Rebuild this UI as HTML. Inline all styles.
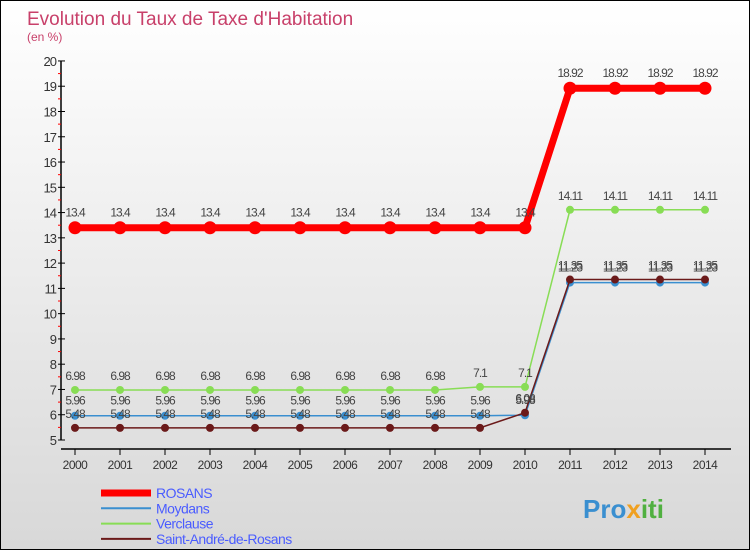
<!DOCTYPE html>
<html><head><meta charset="utf-8"><style>
body{margin:0;width:750px;height:550px;overflow:hidden;font-family:"Liberation Sans",sans-serif}
#wrap{position:relative;width:748px;height:548px;border:1px solid #000;background:linear-gradient(#fff,#d8d8d8)}
</style></head><body>
<div id="wrap">
<svg id="chart" width="748" height="548">
<text x="26" y="24" font-size="19" fill="#c8406a">Evolution du Taux de Taxe d'Habitation</text>
<text x="26" y="40" font-size="12" fill="#c8406a">(en %)</text>
<g id="axes"></g><g id="series"></g><g id="legend"></g>
<text x="582" y="517" font-size="26" font-weight="bold" fill="#3a8fd0">Pro<tspan fill="#f0a020">x</tspan><tspan fill="#50b040">iti</tspan></text>
</svg></div>
<script>
const years=[2000,2001,2002,2003,2004,2005,2006,2007,2008,2009,2010,2011,2012,2013,2014];
const rosans=[13.4,13.4,13.4,13.4,13.4,13.4,13.4,13.4,13.4,13.4,13.4,18.92,18.92,18.92,18.92];
const moydans=[5.96,5.96,5.96,5.96,5.96,5.96,5.96,5.96,5.96,5.96,5.98,11.23,11.23,11.23,11.23];
const verclause=[6.98,6.98,6.98,6.98,6.98,6.98,6.98,6.98,6.98,7.1,7.1,14.11,14.11,14.11,14.11];
const standre=[5.48,5.48,5.48,5.48,5.48,5.48,5.48,5.48,5.48,5.48,6.08,11.35,11.35,11.35,11.35];
const yTicks=[5,6,7,8,9,10,11,12,13,14,15,16,17,18,19,20];
const names=["ROSANS","Moydans","Verclause","Saint-André-de-Rosans"];
const NS="http://www.w3.org/2000/svg";
const X=i=>74+i*45, Y=v=>439-(v-5)*25.27;
function mk(t,a,p){const e=document.createElementNS(NS,t);for(const k in a)e.setAttribute(k,a[k]);p.appendChild(e);return e;}
const ax=document.getElementById('axes');
const yl=mk('line',{x1:60,y1:Y(20),x2:60,y2:Y(5),stroke:'#000','stroke-width':1.5},ax);


yTicks.forEach(v=>{
 mk('line',{x1:57,x2:64,y1:Y(v),y2:Y(v),stroke:'#000'},ax);
 if(v<20) mk('line',{x1:57,x2:60,y1:Y(v+0.5),y2:Y(v+0.5),stroke:'#f00'},ax);
 const t=mk('text',{x:55,y:Y(v)+5,'font-size':13,'text-anchor':'end',fill:'#333','letter-spacing':'-1'},ax);t.textContent=v;
 
 
});
const xl=mk('line',{x1:60,y1:448,x2:730,y2:448,stroke:'#000','stroke-width':1.5},ax);


years.forEach((y,i)=>{
 mk('line',{x1:X(i),x2:X(i),y1:448,y2:454,stroke:'#000'},ax);
 const t=mk('text',{x:X(i),y:468,'font-size':12,'text-anchor':'middle',fill:'#333','letter-spacing':'-0.5'},ax);t.textContent=y;
 
 
});
const sg=document.getElementById('series');
function series(d,col,w,r,name,lab){
 const g=mk('g',{},sg);
 
 
 mk('polyline',{points:d.map((v,i)=>X(i)+','+Y(v)).join(' '),fill:'none',stroke:col,'stroke-width':w},g);
 d.forEach((v,i)=>{
  const c=mk('circle',{cx:X(i),cy:Y(v),r:r,fill:col},g);
  
  
  const t=mk('text',{x:X(i),y:Y(v)-lab,'font-size':12,'text-anchor':'middle',fill:'#444','letter-spacing':'-1'},g);t.textContent=v;
 });
}
series(verclause,'#88dd55',1.5,4,'series-verclause',10);
series(moydans,'#3a8fd0',1.5,4,'series-moydans',11);
series(standre,'#6b1a1a',1.5,4,'series-saint-andre',10);
series(rosans,'#ff0000',7,6.5,'series-rosans',11);
const lg=document.getElementById('legend');
const cols=['#ff0000','#3a8fd0','#88dd55','#6b1a1a'],ws=[7,2,2,2];
names.forEach((n,i)=>{
 const g=mk('g',{},lg);
 
 
 mk('line',{x1:100,x2:150,y1:492+i*15.3,y2:492+i*15.3,stroke:cols[i],'stroke-width':ws[i]},g);
 const t=mk('text',{x:155,y:497+i*15.3,'font-size':14,fill:'#4a5cff','letter-spacing':'-0.5'},g);t.textContent=n;
});
</script></body></html>
